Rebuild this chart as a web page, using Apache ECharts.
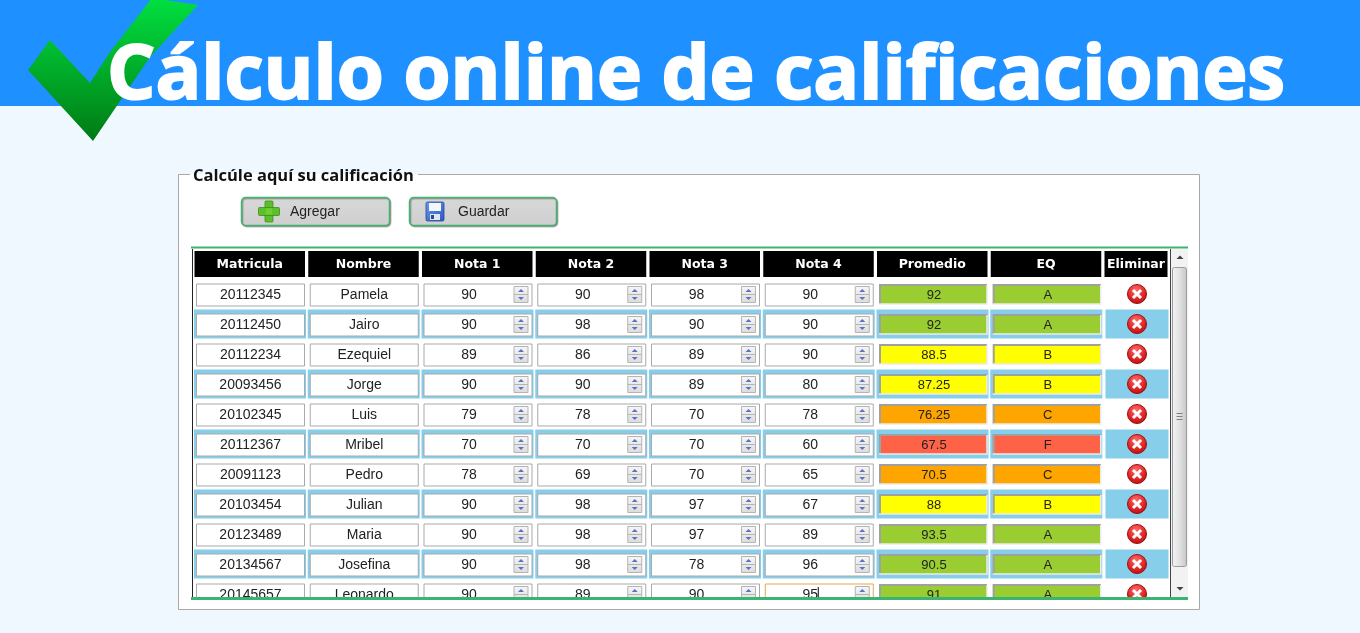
<!DOCTYPE html>
<html>
<head>
<meta charset="utf-8">
<title>Cálculo online de calificaciones</title>
<script src="https://cdn.jsdelivr.net/npm/echarts@6/dist/echarts.min.js"></script>
<style>
  html, body { margin: 0; padding: 0; background: #f0f8ff; }
  #main { width: 1360px; height: 633px; }
</style>
</head>
<body>
<div id="main"></div>
<script>
const columns = ['Matricula', 'Nombre', 'Nota 1', 'Nota 2', 'Nota 3', 'Nota 4', 'Promedio', 'EQ', 'Eliminar'];
const matriculas = ['20112345', '20112450', '20112234', '20093456', '20102345', '20112367', '20091123', '20103454', '20123489', '20134567', '20145657'];
const nombres = ['Pamela', 'Jairo', 'Ezequiel', 'Jorge', 'Luis', 'Mribel', 'Pedro', 'Julian', 'Maria', 'Josefina', 'Leonardo'];
const nota1 = [90, 90, 89, 90, 79, 70, 78, 90, 90, 90, 90];
const nota2 = [90, 98, 86, 90, 78, 70, 69, 98, 98, 98, 89];
const nota3 = [98, 90, 89, 89, 70, 70, 70, 97, 97, 78, 90];
const nota4 = [90, 90, 90, 80, 78, 60, 65, 67, 89, 96, 95];
const promedios = ['92', '92', '88.5', '87.25', '76.25', '67.5', '70.5', '88', '93.5', '90.5', '91'];
const equivalencias = ['A', 'A', 'B', 'B', 'C', 'F', 'C', 'B', 'A', 'A', 'A'];
const gradeColors = { A: '#9acd32', B: '#ffff00', C: '#ffa500', F: '#ff6347' };
const focusCell = [5, 11]; // campo con el cursor (Nota 4 de Leonardo)

// celdas: [columna, fila, texto]; fila 0 = encabezado
const cells = [];
columns.forEach((name, c) => cells.push([c, 0, name]));
matriculas.forEach((m, i) => {
  const row = [m, nombres[i], nota1[i], nota2[i], nota3[i], nota4[i], promedios[i], equivalencias[i], ''];
  row.forEach((v, c) => cells.push([c, i + 1, String(v)]));
});

const inputFont = '14px "Liberation Sans", Arial, sans-serif';

function spinner(x, y) {
  return [
    { type: 'rect', shape: { x: x, y: y, width: 14, height: 16 },
      style: { fill: { type: 'linear', x: 0, y: 0, x2: 0, y2: 1, colorStops: [{ offset: 0, color: '#f6f6f6' }, { offset: 1, color: '#dcdcdc' }] },
        stroke: '#b4b4b4', lineWidth: 1 } },
    { type: 'line', shape: { x1: x, y1: y + 8, x2: x + 14, y2: y + 8 }, style: { stroke: '#b4b4b4', lineWidth: 1 } },
    { type: 'polygon', shape: { points: [[x + 4, y + 5.5], [x + 10, y + 5.5], [x + 7, y + 2.5]] }, style: { fill: '#5a72c0' } },
    { type: 'polygon', shape: { points: [[x + 4, y + 10.5], [x + 10, y + 10.5], [x + 7, y + 13.5]] }, style: { fill: '#5a72c0' } }
  ];
}

function renderCell(params, api) {
  const c = api.value(0);
  const r = api.value(1);
  const text = cells[params.dataIndex][2];
  const pt = api.coord([c, r]);
  const bw = api.size([1, 0])[0];
  const x0 = pt[0] - bw / 2;
  const cy = pt[1];
  const last = c === columns.length - 1;
  const kids = [];

  if (r === 0) {
    const w = last ? 63 : 110.5;
    kids.push({ type: 'rect', shape: { x: x0 + 2, y: cy - 13, width: w, height: 26 }, style: { fill: '#000' } });
    kids.push({ type: 'text', style: { x: x0 + 2 + w / 2, y: cy + 1, text: text, align: 'center', verticalAlign: 'middle',
      font: 'bold 12.5px "DejaVu Sans", Verdana, sans-serif', fill: '#fff' } });
    return { type: 'group', children: kids };
  }

  if (r % 2 === 0) {
    kids.push({ type: 'rect', shape: { x: x0 + (last ? 3 : 1.5), y: cy - 14.5, width: last ? 63 : 112, height: 29 }, style: { fill: '#87ceeb' } });
  }

  if (c <= 5) {
    const focused = c === focusCell[0] && r === focusCell[1];
    kids.push({ type: 'rect', shape: { x: x0 + 4, y: cy - 10, width: 108, height: 22 },
      style: { fill: '#fff', stroke: focused ? '#e8a848' : '#a9a9a9', lineWidth: 1 } });
    if (c <= 1) {
      kids.push({ type: 'text', style: { x: x0 + 58, y: cy + 1, text: text, align: 'center', verticalAlign: 'middle', font: inputFont, fill: '#222' } });
    } else {
      kids.push({ type: 'text', style: { x: x0 + 49, y: cy + 1, text: text, align: 'center', verticalAlign: 'middle', font: inputFont, fill: '#222' } });
      spinner(x0 + 94, cy - 7.5).forEach(k => kids.push(k));
      if (focused) {
        kids.push({ type: 'line', shape: { x1: x0 + 57, y1: cy - 7, x2: x0 + 57, y2: cy + 8 }, style: { stroke: '#000', lineWidth: 1 } });
      }
    }
  } else if (c <= 7) {
    const grade = equivalencias[r - 1];
    const bx = x0 + 4, by = cy - 10, w = 108, h = 20;
    kids.push({ type: 'rect', shape: { x: bx, y: by, width: w, height: h }, style: { fill: gradeColors[grade] } });
    kids.push({ type: 'polyline', shape: { points: [[bx + 1, by + h], [bx + 1, by + 1], [bx + w, by + 1]] }, style: { stroke: '#a0a0a0', lineWidth: 2, fill: null } });
    kids.push({ type: 'polyline', shape: { points: [[bx + w, by + 1], [bx + w, by + h], [bx, by + h]] }, style: { stroke: '#ececec', lineWidth: 1.5, fill: null } });
    kids.push({ type: 'text', style: { x: bx + w / 2 + 1, y: cy + 1, text: text, align: 'center', verticalAlign: 'middle',
      font: '13px "Liberation Sans", Arial, sans-serif', fill: '#222' } });
  } else {
    const ix = x0 + 34.5;
    kids.push({ type: 'circle', shape: { cx: ix, cy: cy, r: 9.5 },
      style: { fill: { type: 'radial', x: 0.45, y: 0.3, r: 0.8, colorStops: [{ offset: 0, color: '#ff6a6a' }, { offset: 0.6, color: '#dd2222' }, { offset: 1, color: '#a80c0c' }] },
        stroke: '#9a1010', lineWidth: 1 } });
    kids.push({ type: 'line', shape: { x1: ix - 4, y1: cy - 4, x2: ix + 4, y2: cy + 4 }, style: { stroke: '#fff', lineWidth: 3 } });
    kids.push({ type: 'line', shape: { x1: ix + 4, y1: cy - 4, x2: ix - 4, y2: cy + 4 }, style: { stroke: '#fff', lineWidth: 3 } });
  }
  return { type: 'group', children: kids };
}

const btnFill = { type: 'linear', x: 0, y: 0, x2: 0, y2: 1, colorStops: [{ offset: 0, color: '#d8d8d8' }, { offset: 1, color: '#cfcfcf' }] };

const chart = echarts.init(document.getElementById('main'));
chart.setOption({
  backgroundColor: '#f0f8ff',
  animation: false,
  grid: { left: 192.5, top: 249, width: 1023.75, height: 348 },
  xAxis: { type: 'category', data: columns, show: false },
  yAxis: { type: 'value', inverse: true, min: -0.5, max: 11.1, show: false },
  graphic: [
    // cabecera
    { type: 'rect', z: 0, shape: { x: 0, y: 0, width: 1360, height: 106 }, style: { fill: '#1e90ff' } },
    { type: 'polygon', z: 1,
      shape: { points: [[28, 70], [50, 40], [90, 83], [110, 52], [152, -2], [198, 5], [150, 57], [93, 141]] },
      style: { fill: { type: 'linear', x: 0, y: 0, x2: 0, y2: 1, colorStops: [{ offset: 0, color: '#00e040' }, { offset: 1, color: '#007a14' }] } } },
    { type: 'text', z: 2, style: { x: 107, y: 77, text: 'Cálculo online de calificaciones', verticalAlign: 'middle',
      font: 'bold 76px "Open Sans", sans-serif', fill: '#fff', stroke: '#fff', lineWidth: 2 } },
    // fieldset
    { type: 'rect', z: 0, shape: { x: 178.5, y: 174.5, width: 1021, height: 435 }, style: { fill: '#fff', stroke: '#a8a8a8', lineWidth: 1 } },
    { type: 'rect', z: 0, shape: { x: 190, y: 168, width: 228, height: 6.5 }, style: { fill: '#f0f8ff' } },
    { type: 'rect', z: 0, shape: { x: 190, y: 174, width: 228, height: 2 }, style: { fill: '#fff' } },
    { type: 'text', z: 1, style: { x: 193, y: 176, text: 'Calcúle aquí su calificación', verticalAlign: 'middle',
      font: 'bold 16.5px "Open Sans", sans-serif', fill: '#111' } },
    // botones
    { type: 'rect', z: 1, shape: { x: 241.5, y: 197.5, width: 148, height: 28, r: 4 }, style: { fill: btnFill, stroke: '#46b36e', lineWidth: 1.5, shadowColor: 'rgba(0,0,0,0.35)', shadowOffsetX: 1, shadowOffsetY: 1, shadowBlur: 1 } },
    { type: 'rect', z: 2, shape: { x: 265, y: 201, width: 8, height: 21, r: 1 }, style: { fill: '#5cc02a', stroke: '#3c8f18', lineWidth: 0.8 } },
    { type: 'rect', z: 2, shape: { x: 258.5, y: 207.5, width: 21, height: 8, r: 1 }, style: { fill: '#5cc02a', stroke: '#3c8f18', lineWidth: 0.8 } },
    { type: 'rect', z: 3, shape: { x: 265.8, y: 208.3, width: 6.4, height: 6.4 }, style: { fill: '#6cd034' } },
    { type: 'text', z: 2, style: { x: 290, y: 212, text: 'Agregar', verticalAlign: 'middle', font: inputFont, fill: '#222' } },
    { type: 'rect', z: 1, shape: { x: 409.5, y: 197.5, width: 147, height: 28, r: 4 }, style: { fill: btnFill, stroke: '#46b36e', lineWidth: 1.5, shadowColor: 'rgba(0,0,0,0.35)', shadowOffsetX: 1, shadowOffsetY: 1, shadowBlur: 1 } },
    { type: 'rect', z: 2, shape: { x: 426, y: 202, width: 18, height: 19, r: 1.5 }, style: { fill: { type: 'linear', x: 0, y: 0, x2: 1, y2: 1, colorStops: [{ offset: 0, color: '#6a9cf0' }, { offset: 1, color: '#2a56c0' }] }, stroke: '#2448a0', lineWidth: 0.8 } },
    { type: 'rect', z: 3, shape: { x: 429, y: 203, width: 12, height: 8 }, style: { fill: '#f4f6fa' } },
    { type: 'rect', z: 3, shape: { x: 430, y: 214, width: 10, height: 6 }, style: { fill: '#dfe6f2' } },
    { type: 'rect', z: 4, shape: { x: 431, y: 215, width: 3, height: 4 }, style: { fill: '#2a4a90' } },
    { type: 'text', z: 2, style: { x: 458, y: 212, text: 'Guardar', verticalAlign: 'middle', font: inputFont, fill: '#222' } },
    // contenedor de la tabla
    { type: 'line', z: 1, shape: { x1: 192.5, y1: 249, x2: 192.5, y2: 598 }, style: { stroke: '#222', lineWidth: 1 } },
    { type: 'line', z: 1, shape: { x1: 1170.5, y1: 249, x2: 1170.5, y2: 598 }, style: { stroke: '#444', lineWidth: 1 } },
    { type: 'line', z: 10, shape: { x1: 191, y1: 247.5, x2: 1188, y2: 247.5 }, style: { stroke: '#3cb371', lineWidth: 2 } },
    // barra de desplazamiento
    { type: 'rect', z: 1, shape: { x: 1171, y: 249, width: 17, height: 348 }, style: { fill: '#f2f2f2' } },
    { type: 'polygon', z: 2, shape: { points: [[1176.5, 259], [1183.5, 259], [1180, 255.5]] }, style: { fill: '#404040' } },
    { type: 'polygon', z: 2, shape: { points: [[1176.5, 587], [1183.5, 587], [1180, 590.5]] }, style: { fill: '#404040' } },
    { type: 'rect', z: 2, shape: { x: 1172.5, y: 267.5, width: 14, height: 299, r: 2 },
      style: { fill: { type: 'linear', x: 0, y: 0, x2: 1, y2: 0, colorStops: [{ offset: 0, color: '#f4f4f4' }, { offset: 0.5, color: '#e2e2e2' }, { offset: 1, color: '#c4c4c4' }] }, stroke: '#9c9c9c', lineWidth: 1 } },
    { type: 'line', z: 3, shape: { x1: 1176.5, y1: 413.5, x2: 1182.5, y2: 413.5 }, style: { stroke: '#808080', lineWidth: 1 } },
    { type: 'line', z: 3, shape: { x1: 1176.5, y1: 416.5, x2: 1182.5, y2: 416.5 }, style: { stroke: '#808080', lineWidth: 1 } },
    { type: 'line', z: 3, shape: { x1: 1176.5, y1: 419.5, x2: 1182.5, y2: 419.5 }, style: { stroke: '#808080', lineWidth: 1 } },
    { type: 'line', z: 10, shape: { x1: 191, y1: 598.5, x2: 1188, y2: 598.5 }, style: { stroke: '#3cb371', lineWidth: 3 } }
  ],
  series: [{
    type: 'custom',
    clip: true,
    renderItem: renderCell,
    encode: { x: 0, y: 1 },
    data: cells
  }]
});
</script>
</body>
</html>
